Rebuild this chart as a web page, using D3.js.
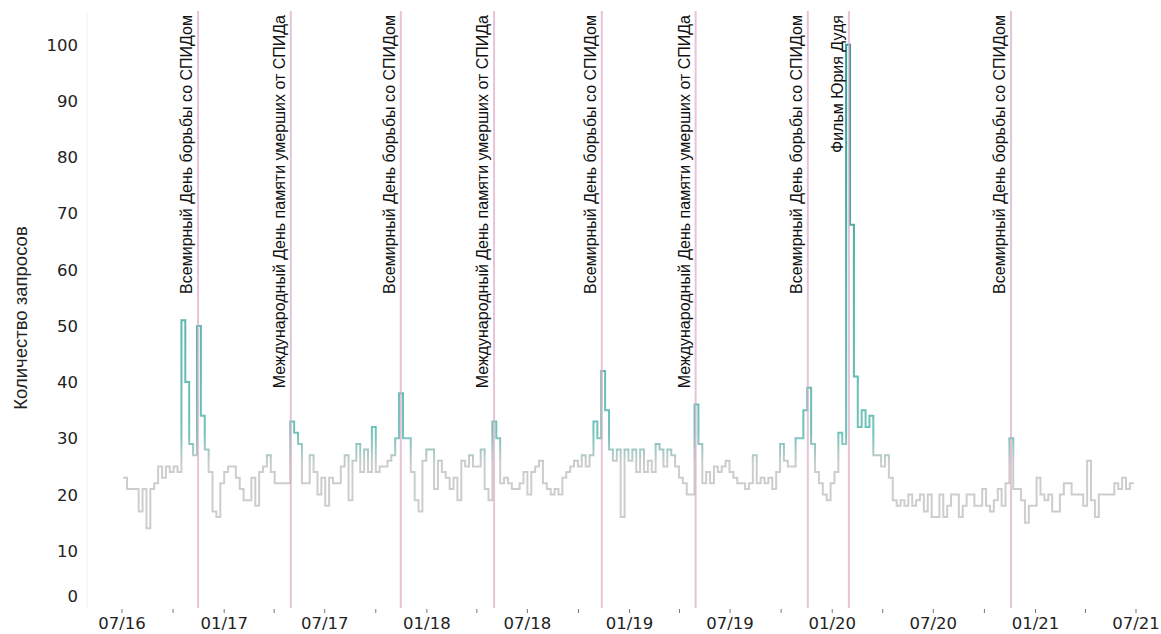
<!DOCTYPE html>
<html><head><meta charset="utf-8">
<script src="https://cdn.jsdelivr.net/npm/d3@7"></script>
<style>body{margin:0;background:#fff} svg{display:block}</style>
</head><body>
<script>
// ---- data ----
const firstWeek = "2016-07-03";
const values = [
 23,21,21,21,17,21,14,21,22,25,
 23,25,24,25,24,51,40,29,27,50,
 34,28,24,17,16,22,24,25,25,23,
 21,19,19,23,18,24,25,27,24,22,
 22,22,22,33,31,29,22,22,27,24,
 20,23,18,23,22,22,25,27,19,26,
 29,24,28,24,32,24,25,25,26,27,
 30,38,30,30,24,19,17,26,28,28,
 21,26,24,23,21,23,19,26,25,27,
 25,25,28,21,19,33,30,22,23,22,
 21,21,22,24,20,24,25,26,22,21,
 20,21,20,23,24,25,26,25,27,25,
 27,33,30,42,35,28,26,28,16,28,
 26,28,24,28,24,26,24,29,28,25,
 28,27,25,23,22,20,20,36,29,22,
 24,22,25,24,25,26,24,23,22,22,
 21,22,27,22,23,22,23,21,24,29,
 26,25,25,30,30,35,39,29,24,22,
 20,19,22,24,31,29,100,68,41,32,
 35,32,34,27,27,25,27,23,19,18,
 19,18,20,18,19,20,17,20,16,16,
 20,16,18,20,20,16,18,20,20,18,
 18,21,18,17,19,21,18,22,30,21,
 21,19,15,18,18,23,20,19,20,17,
 17,20,22,22,20,20,20,18,26,19,
 16,20,20,20,20,22,21,23,21,22,
 22
];
const yTicks = [0,10,20,30,40,50,60,70,80,90,100];
const xTickDates = ["2016-07-01","2017-01-01","2017-07-01","2018-01-01","2018-07-01","2019-01-01","2019-07-01","2020-01-01","2020-07-01","2021-01-01","2021-07-01"];
const xTickLabels = ["07/16","01/17","07/17","01/18","07/18","01/19","07/19","01/20","07/20","01/21","07/21"];
const xMinorDates = ["2016-10-01","2017-04-01","2017-10-01","2018-04-01","2018-10-01","2019-04-01","2019-10-01","2020-04-01","2020-10-01","2021-04-01"];
const eventDates = ["2016-11-15","2017-05-01","2017-11-15","2018-05-02","2018-11-12","2019-04-30","2019-11-18","2020-01-31","2020-11-18"];
const eventLabels = [
 "Всемирный День борьбы со СПИДом",
 "Международный День памяти умерших от СПИДа",
 "Всемирный День борьбы со СПИДом",
 "Международный День памяти умерших от СПИДа",
 "Всемирный День борьбы со СПИДом",
 "Международный День памяти умерших от СПИДа",
 "Всемирный День борьбы со СПИДом",
 "Фильм Юрия Дудя",
 "Всемирный День борьбы со СПИДом"
];
const yTitle = "Количество запросов";

// ---- chart ----
const W = 1161, H = 634;
const parse = d3.utcParse("%Y-%m-%d");
const start = parse(firstWeek);
const series = values.map((v,i) => ({date: d3.utcWeek.offset(start, i), value: v}));

const x = d3.scaleUtc().domain([parse("2016-07-01"), parse("2021-07-01")]).range([122, 1136]);
const y = d3.scaleLinear().domain([0, 100]).range([607, 44.8]);

const tickFont = "'DejaVu Sans', Verdana, sans-serif";
const svg = d3.select("body").append("svg").attr("width", W).attr("height", H);

const defs = svg.append("defs");
const grad = defs.append("linearGradient").attr("id","lg")
  .attr("gradientUnits","userSpaceOnUse")
  .attr("x1",0).attr("x2",0).attr("y1",y(0)).attr("y2",y(100));
[[0,"#cdcdcd"],[0.255,"#cdcdcd"],[0.31,"#6fc3ba"],[0.6,"#4fb3a9"],[1,"#2f9c92"]]
  .forEach(([o,c]) => grad.append("stop").attr("offset",o).attr("stop-color",c));

// faint y axis line
svg.append("line").attr("x1",87).attr("x2",87).attr("y1",12).attr("y2",y(0))
  .attr("stroke","#f0f0f0").attr("stroke-width",1);

// y tick labels
svg.append("g").selectAll("text").data(yTicks).join("text")
  .attr("x", 78)
  .attr("y", d => d === 0 ? y(d) - 11 : y(d))
  .attr("dy", "0.36em")
  .attr("text-anchor", "end")
  .attr("font-family", tickFont)
  .attr("font-size", 16.5)
  .attr("fill", "#222")
  .text(d => d);

// y title
svg.append("text")
  .attr("transform", `translate(27,318) rotate(-90)`)
  .attr("text-anchor","middle")
  .attr("font-family","'Liberation Sans', Arial, sans-serif")
  .attr("font-size", 18.5)
  .attr("fill","#222")
  .text(yTitle);

// x axis ticks
const xMajor = xTickDates.map(parse), xMinor = xMinorDates.map(parse);
svg.append("g").selectAll("line").data(xMajor.concat(xMinor)).join("line")
  .attr("x1", d => x(d)).attr("x2", d => x(d))
  .attr("y1", 609).attr("y2", 613)
  .attr("stroke", "#777").attr("stroke-width", 1);
svg.append("g").selectAll("text").data(xMajor).join("text")
  .attr("x", d => x(d)).attr("y", 629)
  .attr("text-anchor","middle")
  .attr("font-family", tickFont)
  .attr("font-size", 16.5)
  .attr("fill", "#222")
  .text((d,i) => xTickLabels[i]);

// data line
const line = d3.line().x(d => x(d.date)).y(d => y(d.value)).curve(d3.curveStepAfter);
svg.append("path").datum(series)
  .attr("d", line)
  .attr("fill","none")
  .attr("stroke","url(#lg)")
  .attr("stroke-width", 2)
  .attr("stroke-linejoin","miter");

// events
const ev = eventDates.map((d,i) => ({date: parse(d), label: eventLabels[i]}));
svg.append("g").selectAll("line").data(ev).join("line")
  .attr("x1", d => x(d.date)).attr("x2", d => x(d.date))
  .attr("y1", 11).attr("y2", 608)
  .attr("stroke", "#dca9c6").attr("stroke-opacity", 0.7).attr("stroke-width", 2);
svg.append("g").selectAll("text").data(ev).join("text")
  .attr("transform", d => `translate(${x(d.date) - 6},15) rotate(-90)`)
  .attr("text-anchor","end")
  .attr("font-family","'Liberation Sans', Arial, sans-serif")
  .attr("font-size", 16)
  .attr("fill","#111")
  .text(d => d.label);
</script>
</body></html>
